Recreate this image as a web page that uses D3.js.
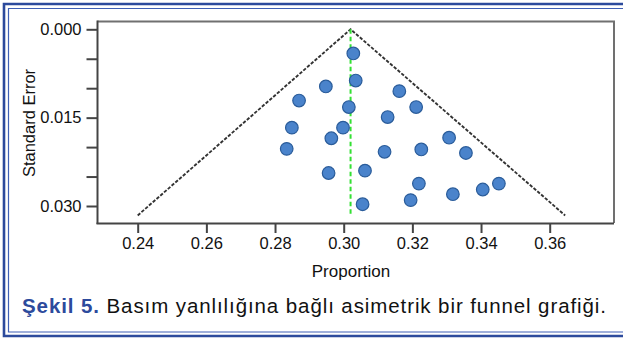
<!DOCTYPE html>
<html>
<head>
<meta charset="utf-8">
<script src="https://cdn.jsdelivr.net/npm/d3@7"></script>
<style>
  html, body { margin: 0; padding: 0; background: #fff; }
  svg { display: block; }
  text { font-family: "Liberation Sans", Arial, Helvetica, sans-serif; }
</style>
</head>
<body>
<svg id="chart" width="623" height="338"></svg>
<script>
// Study estimates: proportion and its standard error
const proportion = [0.3028, 0.3035, 0.2948, 0.3162, 0.2870, 0.3015, 0.3211, 0.3128,
                    0.2849, 0.2998, 0.2964, 0.3307, 0.2834, 0.3119, 0.3226, 0.3356,
                    0.2956, 0.3062, 0.3219, 0.3318, 0.3405, 0.3452, 0.3195, 0.3055];
const standardError = [0.0041, 0.0087, 0.0097, 0.0105, 0.0121, 0.0132, 0.0132, 0.0149,
                       0.0167, 0.0167, 0.0185, 0.0184, 0.0203, 0.0208, 0.0204, 0.0210,
                       0.0244, 0.0240, 0.0262, 0.0280, 0.0272, 0.0262, 0.0290, 0.0297];

// Pooled estimate and the pseudo 95% confidence funnel
const pooled = 0.302;
const funnelProportion = [0.240, 0.302, 0.3645];
const funnelSE = [0.0316, 0.000, 0.0316];

const xTicks = [0.24, 0.26, 0.28, 0.30, 0.32, 0.34, 0.36];
const yMajorTicks = [0.000, 0.015, 0.030];
const yMinorTicks = [0.005, 0.010, 0.020, 0.025];

const svg = d3.select("#chart");

// Double blue frame (open on the right)
const frameOuter = "#2c4a9c", frameInner = "#3f5fb5";
svg.append("path")
  .attr("d", "M623,4 H4 V336 H623")
  .attr("fill", "none").attr("stroke", frameOuter).attr("stroke-width", 2.6);
svg.append("path")
  .attr("d", "M623,8.5 H8.5 V332 H623")
  .attr("fill", "none").attr("stroke", frameInner).attr("stroke-width", 1.2);

const plot = { left: 97.5, top: 21.5, right: 614, bottom: 223 };

const x = d3.scaleLinear().domain([0.24, 0.36]).range([137.7, 549.7]);
const y = d3.scaleLinear().domain([0, 0.03]).range([29.3, 206]);

const g = svg.append("g");

// Plot box: lighter top/right border
g.append("path")
  .attr("d", `M${plot.left},${plot.top} H${plot.right} V${plot.bottom}`)
  .attr("fill", "none").attr("stroke", "#707070").attr("stroke-width", 2);

// Funnel
const funnelLine = d3.line().x(d => x(d[0])).y(d => y(d[1]));
g.append("path")
  .datum(d3.zip(funnelProportion, funnelSE))
  .attr("d", funnelLine)
  .attr("fill", "none")
  .attr("stroke", "#333")
  .attr("stroke-width", 1.9)
  .attr("stroke-dasharray", "3.4,1.6");

// Pooled estimate line
g.append("line")
  .attr("x1", x(pooled)).attr("x2", x(pooled))
  .attr("y1", y(0)).attr("y2", y(0.0316))
  .attr("stroke", "#33e033")
  .attr("stroke-width", 2)
  .attr("stroke-dasharray", "4.5,3");

// Study points
g.selectAll("circle.study")
  .data(d3.zip(proportion, standardError))
  .join("circle")
  .attr("class", "study")
  .attr("cx", d => x(d[0]))
  .attr("cy", d => y(d[1]))
  .attr("r", 6.3)
  .attr("fill", "#4a83cb")
  .attr("stroke", "#2a5c9a")
  .attr("stroke-width", 1.2);

// Axes
const xAxis = d3.axisBottom(x).tickValues(xTicks).tickFormat(d3.format(".2f"))
  .tickSize(10).tickPadding(4);
const xg = svg.append("g").attr("transform", `translate(0,${plot.bottom})`).call(xAxis);
xg.select(".domain").attr("d", `M${plot.left - 1},0.5 H${plot.right}`)
  .attr("stroke", "#444").attr("stroke-width", 2);

const yAxis = d3.axisLeft(y).tickValues(yMajorTicks).tickFormat(d3.format(".3f"))
  .tickSize(11).tickPadding(5);
const yg = svg.append("g").attr("transform", `translate(${plot.left},0)`).call(yAxis);
yg.select(".domain").attr("d", `M0,${plot.top - 1} V${plot.bottom + 1}`)
  .attr("stroke", "#444").attr("stroke-width", 2);

const yMinor = d3.axisLeft(y).tickValues(yMinorTicks).tickFormat("").tickSize(11);
const ymg = svg.append("g").attr("transform", `translate(${plot.left},0)`).call(yMinor);
ymg.select(".domain").remove();

[xg, yg, ymg].forEach(a => {
  a.selectAll(".tick line").attr("stroke", "#444").attr("stroke-width", 2);
  a.selectAll(".tick text").attr("fill", "#111").style("font-size", "16.5px")
    .style("font-family", "'Liberation Sans', Arial, Helvetica, sans-serif");
});

// Axis titles
svg.append("text")
  .attr("x", 351).attr("y", 277)
  .attr("text-anchor", "middle")
  .attr("fill", "#111")
  .style("font-size", "17px")
  .text("Proportion");

svg.append("text")
  .attr("transform", "translate(35,123) rotate(-90)")
  .attr("text-anchor", "middle")
  .attr("fill", "#111")
  .style("font-size", "16.5px")
  .text("Standard Error");

// Caption
const cap = svg.append("text")
  .attr("x", 22).attr("y", 313)
  .attr("textLength", 584)
  .attr("lengthAdjust", "spacing")
  .style("font-size", "20.5px");
cap.append("tspan").attr("fill", "#2c4a9c").attr("font-weight", "bold").text("Şekil 5.");
cap.append("tspan").attr("fill", "#111").text(" Basım yanlılığına bağlı asimetrik bir funnel grafiği.");
</script>
</body>
</html>
